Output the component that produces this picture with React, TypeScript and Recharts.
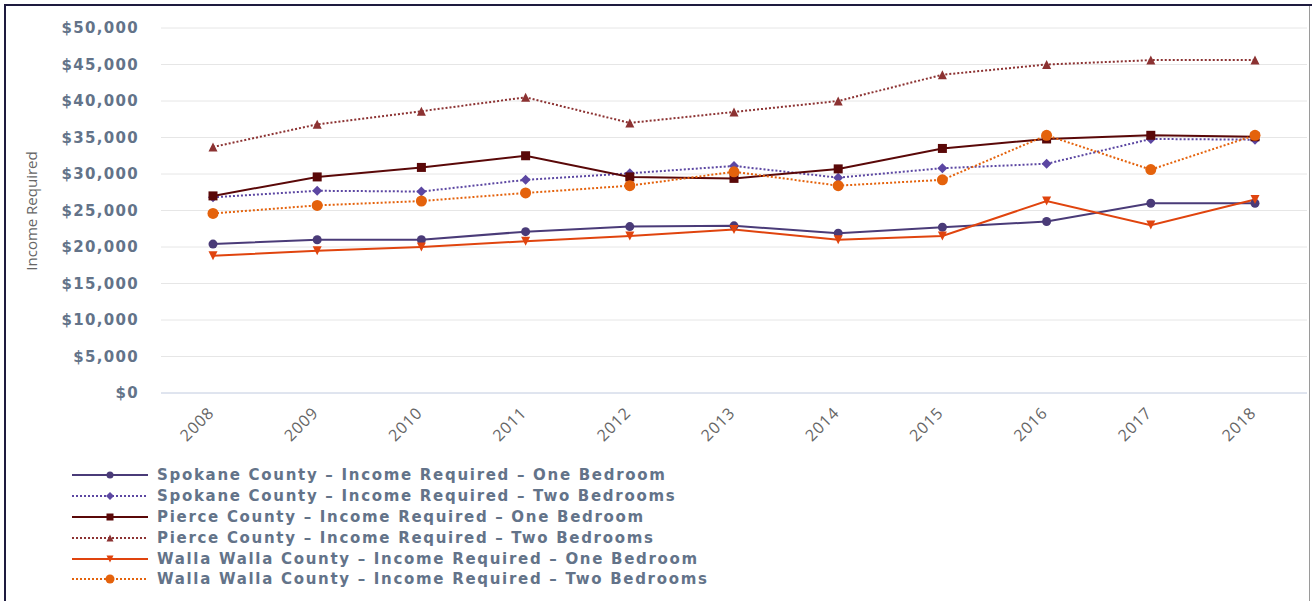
import React from "react";
import { LineChart, Line, XAxis, YAxis, CartesianGrid } from "recharts";

// Values (dollars per year)
const years = ["2008", "2009", "2010", "2011", "2012", "2013", "2014", "2015", "2016", "2017", "2018"];
const spokaneOne = [20400, 21000, 21000, 22100, 22800, 22900, 21900, 22700, 23500, 26000, 26000];
const spokaneTwo = [26800, 27700, 27600, 29200, 30100, 31100, 29500, 30800, 31400, 34800, 34700];
const pierceOne = [27000, 29600, 30900, 32500, 29600, 29400, 30700, 33500, 34800, 35300, 35100];
const pierceTwo = [33700, 36800, 38600, 40500, 37000, 38500, 40000, 43600, 45000, 45600, 45600];
const wallaOne = [18800, 19500, 20000, 20800, 21500, 22400, 21000, 21500, 26300, 23000, 26500];
const wallaTwo = [24600, 25700, 26300, 27400, 28400, 30300, 28400, 29200, 35300, 30600, 35300];
const yTicks = [0, 5000, 10000, 15000, 20000, 25000, 30000, 35000, 40000, 45000, 50000];

type Shape = "circle" | "diamond" | "square" | "triangle" | "triangleDown";

const series: Array<{ key: string; name: string; values: number[]; color: string; dotted: boolean; shape: Shape; size: number }> = [
  { key: "spokaneOne", name: "Spokane County – Income Required – One Bedroom", values: spokaneOne, color: "#4a3b78", dotted: false, shape: "circle", size: 4.5 },
  { key: "spokaneTwo", name: "Spokane County – Income Required – Two Bedrooms", values: spokaneTwo, color: "#5c47a2", dotted: true, shape: "diamond", size: 5 },
  { key: "pierceOne", name: "Pierce County – Income Required – One Bedroom", values: pierceOne, color: "#5a0808", dotted: false, shape: "square", size: 4.5 },
  { key: "pierceTwo", name: "Pierce County – Income Required – Two Bedrooms", values: pierceTwo, color: "#8c3232", dotted: true, shape: "triangle", size: 4.5 },
  { key: "wallaOne", name: "Walla Walla County – Income Required – One Bedroom", values: wallaOne, color: "#e0440e", dotted: false, shape: "triangleDown", size: 4.5 },
  { key: "wallaTwo", name: "Walla Walla County – Income Required – Two Bedrooms", values: wallaTwo, color: "#e4620c", dotted: true, shape: "circle", size: 5.5 },
];

const data = years.map((year, i) => {
  const row: Record<string, any> = { year };
  series.forEach((s) => (row[s.key] = s.values[i]));
  return row;
});

const Marker = ({ cx, cy, shape, color, size }: { cx: number; cy: number; shape: Shape; color: string; size: number }) => {
  if (shape === "circle") return <circle cx={cx} cy={cy} r={size} fill={color} />;
  if (shape === "square") return <rect x={cx - size} y={cy - size} width={size * 2} height={size * 2} fill={color} />;
  if (shape === "diamond")
    return <path d={`M${cx} ${cy - size}L${cx + size} ${cy}L${cx} ${cy + size}L${cx - size} ${cy}Z`} fill={color} />;
  if (shape === "triangle")
    return <path d={`M${cx} ${cy - size}L${cx + size} ${cy + size}L${cx - size} ${cy + size}Z`} fill={color} />;
  return <path d={`M${cx - size} ${cy - size}L${cx + size} ${cy - size}L${cx} ${cy + size}Z`} fill={color} />;
};

const XTick = ({ x, y, payload }: any) => {
  const px = x + 2;
  const py = y + 21;
  return (
    <text x={px} y={py} transform={`rotate(-45 ${px} ${py})`} textAnchor="end" fill="#666" fontSize={16} letterSpacing={0.8} fontFamily="Open Sans">
      {payload.value}
    </text>
  );
};

const YTick = ({ x, y, payload }: any) => (
  <text x={x} y={y} dy={5} textAnchor="end" fill="#637389" fontSize={15} fontWeight="bold" fontFamily="DejaVu Sans" letterSpacing={1.3}>
    {"$" + payload.value.toLocaleString("en-US")}
  </text>
);

const YLabel = () => (
  <text x={37} y={211} transform="rotate(-90 37 211)" textAnchor="middle" fill="#666" fontSize={15} fontFamily="Open Sans">
    Income Required
  </text>
);

export default function App() {
  return (
    <div style={{ position: "absolute", left: 0, top: 0, width: 1315, height: 601, background: "#fff", overflow: "hidden" }}>
      <div style={{ position: "absolute", left: 4, top: 4, width: 2, height: 597, background: "#1e1b3f" }} />
      <div style={{ position: "absolute", left: 4, top: 4, width: 1308, height: 2, background: "#1e1b3f" }} />
      <div style={{ position: "absolute", left: 1309, top: 6, width: 1, height: 595, background: "#9a9a9a" }} />

      <div style={{ position: "absolute", left: 0, top: 0 }}>
        <LineChart width={1315} height={460} data={data} margin={{ top: 28, right: 8, bottom: 0, left: 0 }}>
          <CartesianGrid vertical={false} stroke="#e6e6e6" />
          <XAxis
            dataKey="year"
            height={67}
            padding={{ left: 52, right: 52 }}
            tickLine={false}
            tickSize={0}
            tickMargin={0}
            stroke="#ccd6eb"
            tick={<XTick />}
            interval={0}
          />
          <YAxis
            width={161}
            domain={[0, 50000]}
            ticks={yTicks}
            axisLine={false}
            tickLine={false}
            tickSize={0}
            tickMargin={22}
            tick={<YTick />}
            interval={0}
            label={<YLabel />}
          />
          {series.map((s) => (
            <Line
              key={s.key}
              type="linear"
              dataKey={s.key}
              name={s.name}
              stroke={s.color}
              strokeWidth={2}
              strokeDasharray={s.dotted ? "2 2" : undefined}
              isAnimationActive={false}
              dot={(p: any) => <Marker key={`${s.key}-${p.index}`} cx={p.cx} cy={p.cy} shape={s.shape} color={s.color} size={s.size} />}
              activeDot={false}
            />
          ))}
        </LineChart>
      </div>

      <div style={{ position: "absolute", left: 72, top: 465 }}>
        {series.map((s) => (
          <div key={s.key} style={{ height: 20.8, display: "flex", alignItems: "center" }}>
            <svg width={76} height={14}>
              <line x1={0} y1={7} x2={76} y2={7} stroke={s.color} strokeWidth={2} strokeDasharray={s.dotted ? "2 2" : undefined} />
              <Marker cx={38} cy={7} shape={s.shape} color={s.color} size={s.size - 1} />
            </svg>
            <span
              style={{
                marginLeft: 9,
                fontFamily: "DejaVu Sans",
                fontSize: 15,
                fontWeight: "bold",
                letterSpacing: 1.7,
                color: "#637389",
                whiteSpace: "nowrap",
                lineHeight: "20px",
              }}
            >
              {s.name}
            </span>
          </div>
        ))}
      </div>
    </div>
  );
}
